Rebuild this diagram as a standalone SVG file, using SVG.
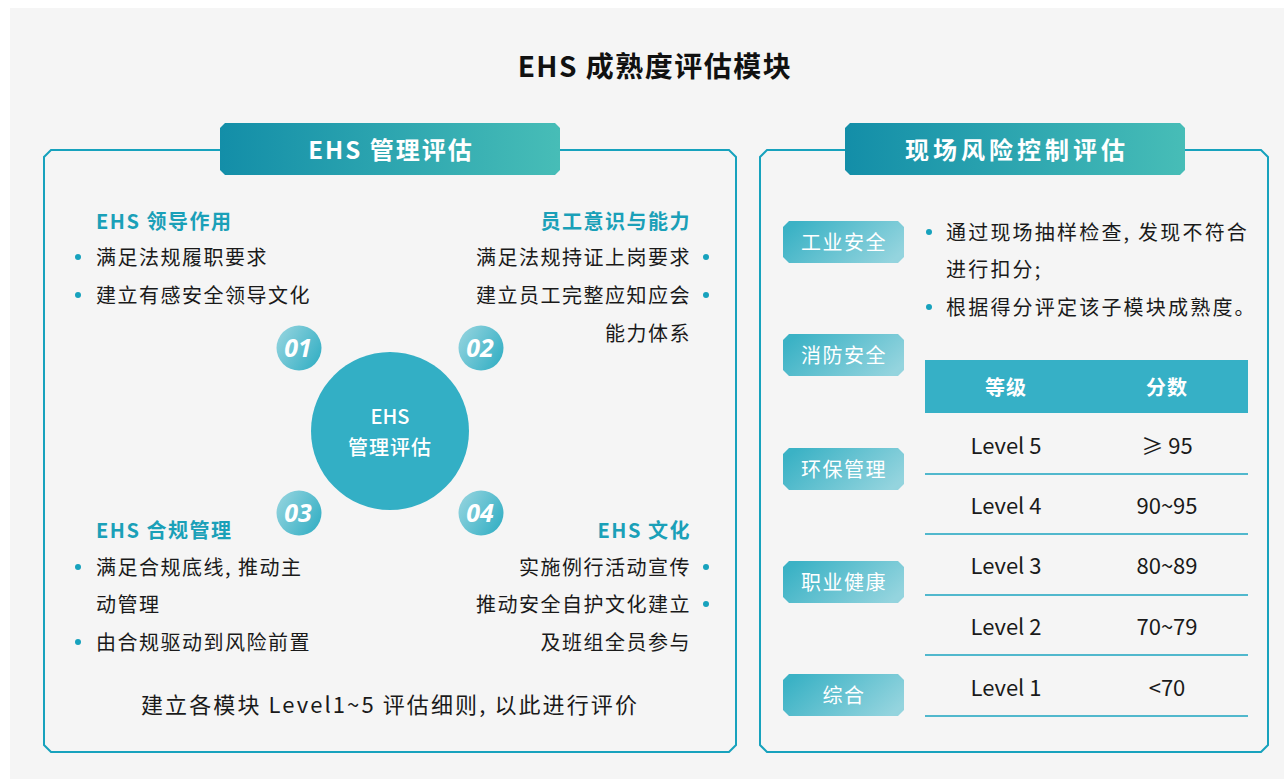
<svg xmlns="http://www.w3.org/2000/svg" width="1284" height="779" viewBox="0 0 1284 779">
<defs>
<linearGradient id="tabGrad" x1="0" y1="0" x2="1" y2="0">
<stop offset="0" stop-color="#138ea8"/>
<stop offset="1" stop-color="#47bdb7"/>
</linearGradient>
<linearGradient id="tagGrad" x1="0" y1="0.3" x2="1" y2="0.7">
<stop offset="0" stop-color="#3bb2c5"/>
<stop offset="1" stop-color="#94d4de"/>
</linearGradient>
<linearGradient id="numGrad" x1="0" y1="0.2" x2="1" y2="0.8">
<stop offset="0" stop-color="#92d3de"/>
<stop offset="1" stop-color="#34afc4"/>
</linearGradient>
<style>
text{font-family:"Noto Sans CJK SC","Noto Sans",sans-serif;dominant-baseline:central}
.panel{fill:none;stroke:#17a2bd;stroke-width:2}
.tabtxt{fill:#fff;font-size:24px;font-weight:700;text-anchor:middle}
.head{fill:#1aa0b8;font-size:20px;font-weight:700;letter-spacing:1.5px}
.body{fill:#1a1a1a;font-size:20px;letter-spacing:1.5px}
.wide{letter-spacing:2.2px}
.end{text-anchor:end}
.dot{fill:#17a2bd}
.num{fill:#fff;font-size:25px;font-weight:700;font-style:italic;text-anchor:middle;font-family:"Noto Sans","Noto Sans CJK SC",sans-serif}
.tag{fill:url(#tagGrad)}
.tagtxt{fill:#fff;font-size:20px;text-anchor:middle;letter-spacing:1.5px}
.th{fill:#fff;font-size:20px;font-weight:700;text-anchor:middle}
.td{fill:#1a1a1a;font-size:22px;text-anchor:middle}
.rule{stroke:#1aa3bf;stroke-width:1.5}
</style>
</defs>
<rect x="10" y="8" width="1274" height="771" fill="#f5f5f5"/>
<text x="655" y="65" font-size="28" font-weight="700" fill="#111" text-anchor="middle" letter-spacing="1.5">EHS 成熟度评估模块</text>

<g id="panel-left">
<path class="panel" d="M51,150 H729 L736,157 V745 L729,752 H51 L44,745 V157 Z"/>
<path fill="url(#tabGrad)" d="M225,123 H555 L560,128 V170 L555,175 H225 L220,170 V128 Z"/>
<text class="tabtxt" x="391" y="148" letter-spacing="2">EHS 管理评估</text>
</g>

<g id="center-circle">
<circle cx="390" cy="431" r="79" fill="#33afc5"/>
<text x="390" y="415" font-size="20" font-weight="500" fill="#fff" text-anchor="middle">EHS</text>
<text x="390" y="446" font-size="20" font-weight="500" fill="#fff" text-anchor="middle" letter-spacing="1">管理评估</text>
</g>

<g id="num-01"><circle cx="299" cy="348" r="22.5" fill="url(#numGrad)"/><text class="num" x="298" y="347">01</text></g>
<g id="num-02"><circle cx="481" cy="348" r="22.5" fill="url(#numGrad)"/><text class="num" x="480" y="347">02</text></g>
<g id="num-03"><circle cx="299" cy="513" r="22.5" fill="url(#numGrad)"/><text class="num" x="298" y="512">03</text></g>
<g id="num-04"><circle cx="481" cy="513" r="22.5" fill="url(#numGrad)"/><text class="num" x="480" y="512">04</text></g>

<g id="leadership">
<text class="head" x="96" y="220">EHS 领导作用</text>
<circle class="dot" cx="78" cy="257" r="3"/>
<text class="body" x="96" y="256">满足法规履职要求</text>
<circle class="dot" cx="78" cy="295" r="3"/>
<text class="body" x="96" y="294">建立有感安全领导文化</text>
</g>

<g id="competence">
<text class="head end" x="691" y="220">员工意识与能力</text>
<circle class="dot" cx="706" cy="257" r="3"/>
<text class="body end" x="691" y="256">满足法规持证上岗要求</text>
<circle class="dot" cx="706" cy="295" r="3"/>
<text class="body end" x="691" y="294">建立员工完整应知应会</text>
<text class="body end" x="691" y="332">能力体系</text>
</g>

<g id="compliance">
<text class="head" x="96" y="529">EHS 合规管理</text>
<circle class="dot" cx="78" cy="567" r="3"/>
<text class="body" x="96" y="566">满足合规底线, 推动主</text>
<text class="body" x="96" y="603">动管理</text>
<circle class="dot" cx="78" cy="642" r="3"/>
<text class="body" x="96" y="641">由合规驱动到风险前置</text>
</g>

<g id="culture">
<text class="head end" x="691" y="529">EHS 文化</text>
<circle class="dot" cx="706" cy="567" r="3"/>
<text class="body end" x="691" y="566">实施例行活动宣传</text>
<circle class="dot" cx="706" cy="604" r="3"/>
<text class="body end" x="691" y="603">推动安全自护文化建立</text>
<text class="body end" x="691" y="641">及班组全员参与</text>
</g>

<g id="footer-note">
<text x="390" y="703" font-size="22" fill="#1a1a1a" text-anchor="middle" letter-spacing="2.1">建立各模块 Level1~5 评估细则, 以此进行评价</text>
</g>

<g id="panel-right">
<path class="panel" d="M767,150 H1261 L1268,157 V745 L1261,752 H767 L760,745 V157 Z"/>
<path fill="url(#tabGrad)" d="M850,123 H1180 L1185,128 V170 L1180,175 H850 L845,170 V128 Z"/>
<text class="tabtxt" x="1017" y="148" letter-spacing="4">现场风险控制评估</text>
</g>

<g id="tag-1"><path class="tag" d="M789,221 H898 L904,227 V257 L898,263 H789 L783,257 V227 Z"/><text class="tagtxt" x="844" y="241">工业安全</text></g>
<g id="tag-2"><path class="tag" d="M789,334 H898 L904,340 V370 L898,376 H789 L783,370 V340 Z"/><text class="tagtxt" x="844" y="354">消防安全</text></g>
<g id="tag-3"><path class="tag" d="M789,448 H898 L904,454 V484 L898,490 H789 L783,484 V454 Z"/><text class="tagtxt" x="844" y="468">环保管理</text></g>
<g id="tag-4"><path class="tag" d="M789,561 H898 L904,567 V597 L898,603 H789 L783,597 V567 Z"/><text class="tagtxt" x="844" y="581">职业健康</text></g>
<g id="tag-5"><path class="tag" d="M789,674 H898 L904,680 V710 L898,716 H789 L783,710 V680 Z"/><text class="tagtxt" x="844" y="694">综合</text></g>

<g id="method">
<circle class="dot" cx="929" cy="232" r="3"/>
<text class="body wide" x="946" y="231">通过现场抽样检查, 发现不符合</text>
<text class="body wide" x="946" y="268">进行扣分;</text>
<circle class="dot" cx="929" cy="307" r="3"/>
<text class="body wide" x="946" y="306">根据得分评定该子模块成熟度。</text>
</g>

<g id="level-table">
<rect x="925" y="360" width="323" height="53" fill="#36b0c6"/>
<text class="th" x="1006" y="386" letter-spacing="1">等级</text>
<text class="th" x="1167" y="386" letter-spacing="1">分数</text>
<text class="td" x="1006" y="444">Level 5</text><text class="td" x="1167" y="444">≥ 95</text>
<line class="rule" x1="925" y1="474" x2="1248" y2="474"/>
<text class="td" x="1006" y="504">Level 4</text><text class="td" x="1167" y="504">90~95</text>
<line class="rule" x1="925" y1="534" x2="1248" y2="534"/>
<text class="td" x="1006" y="564">Level 3</text><text class="td" x="1167" y="564">80~89</text>
<line class="rule" x1="925" y1="595" x2="1248" y2="595"/>
<text class="td" x="1006" y="625">Level 2</text><text class="td" x="1167" y="625">70~79</text>
<line class="rule" x1="925" y1="655" x2="1248" y2="655"/>
<text class="td" x="1006" y="686">Level 1</text><text class="td" x="1167" y="686">&lt;70</text>
<line class="rule" x1="925" y1="716" x2="1248" y2="716"/>
</g>
</svg>
